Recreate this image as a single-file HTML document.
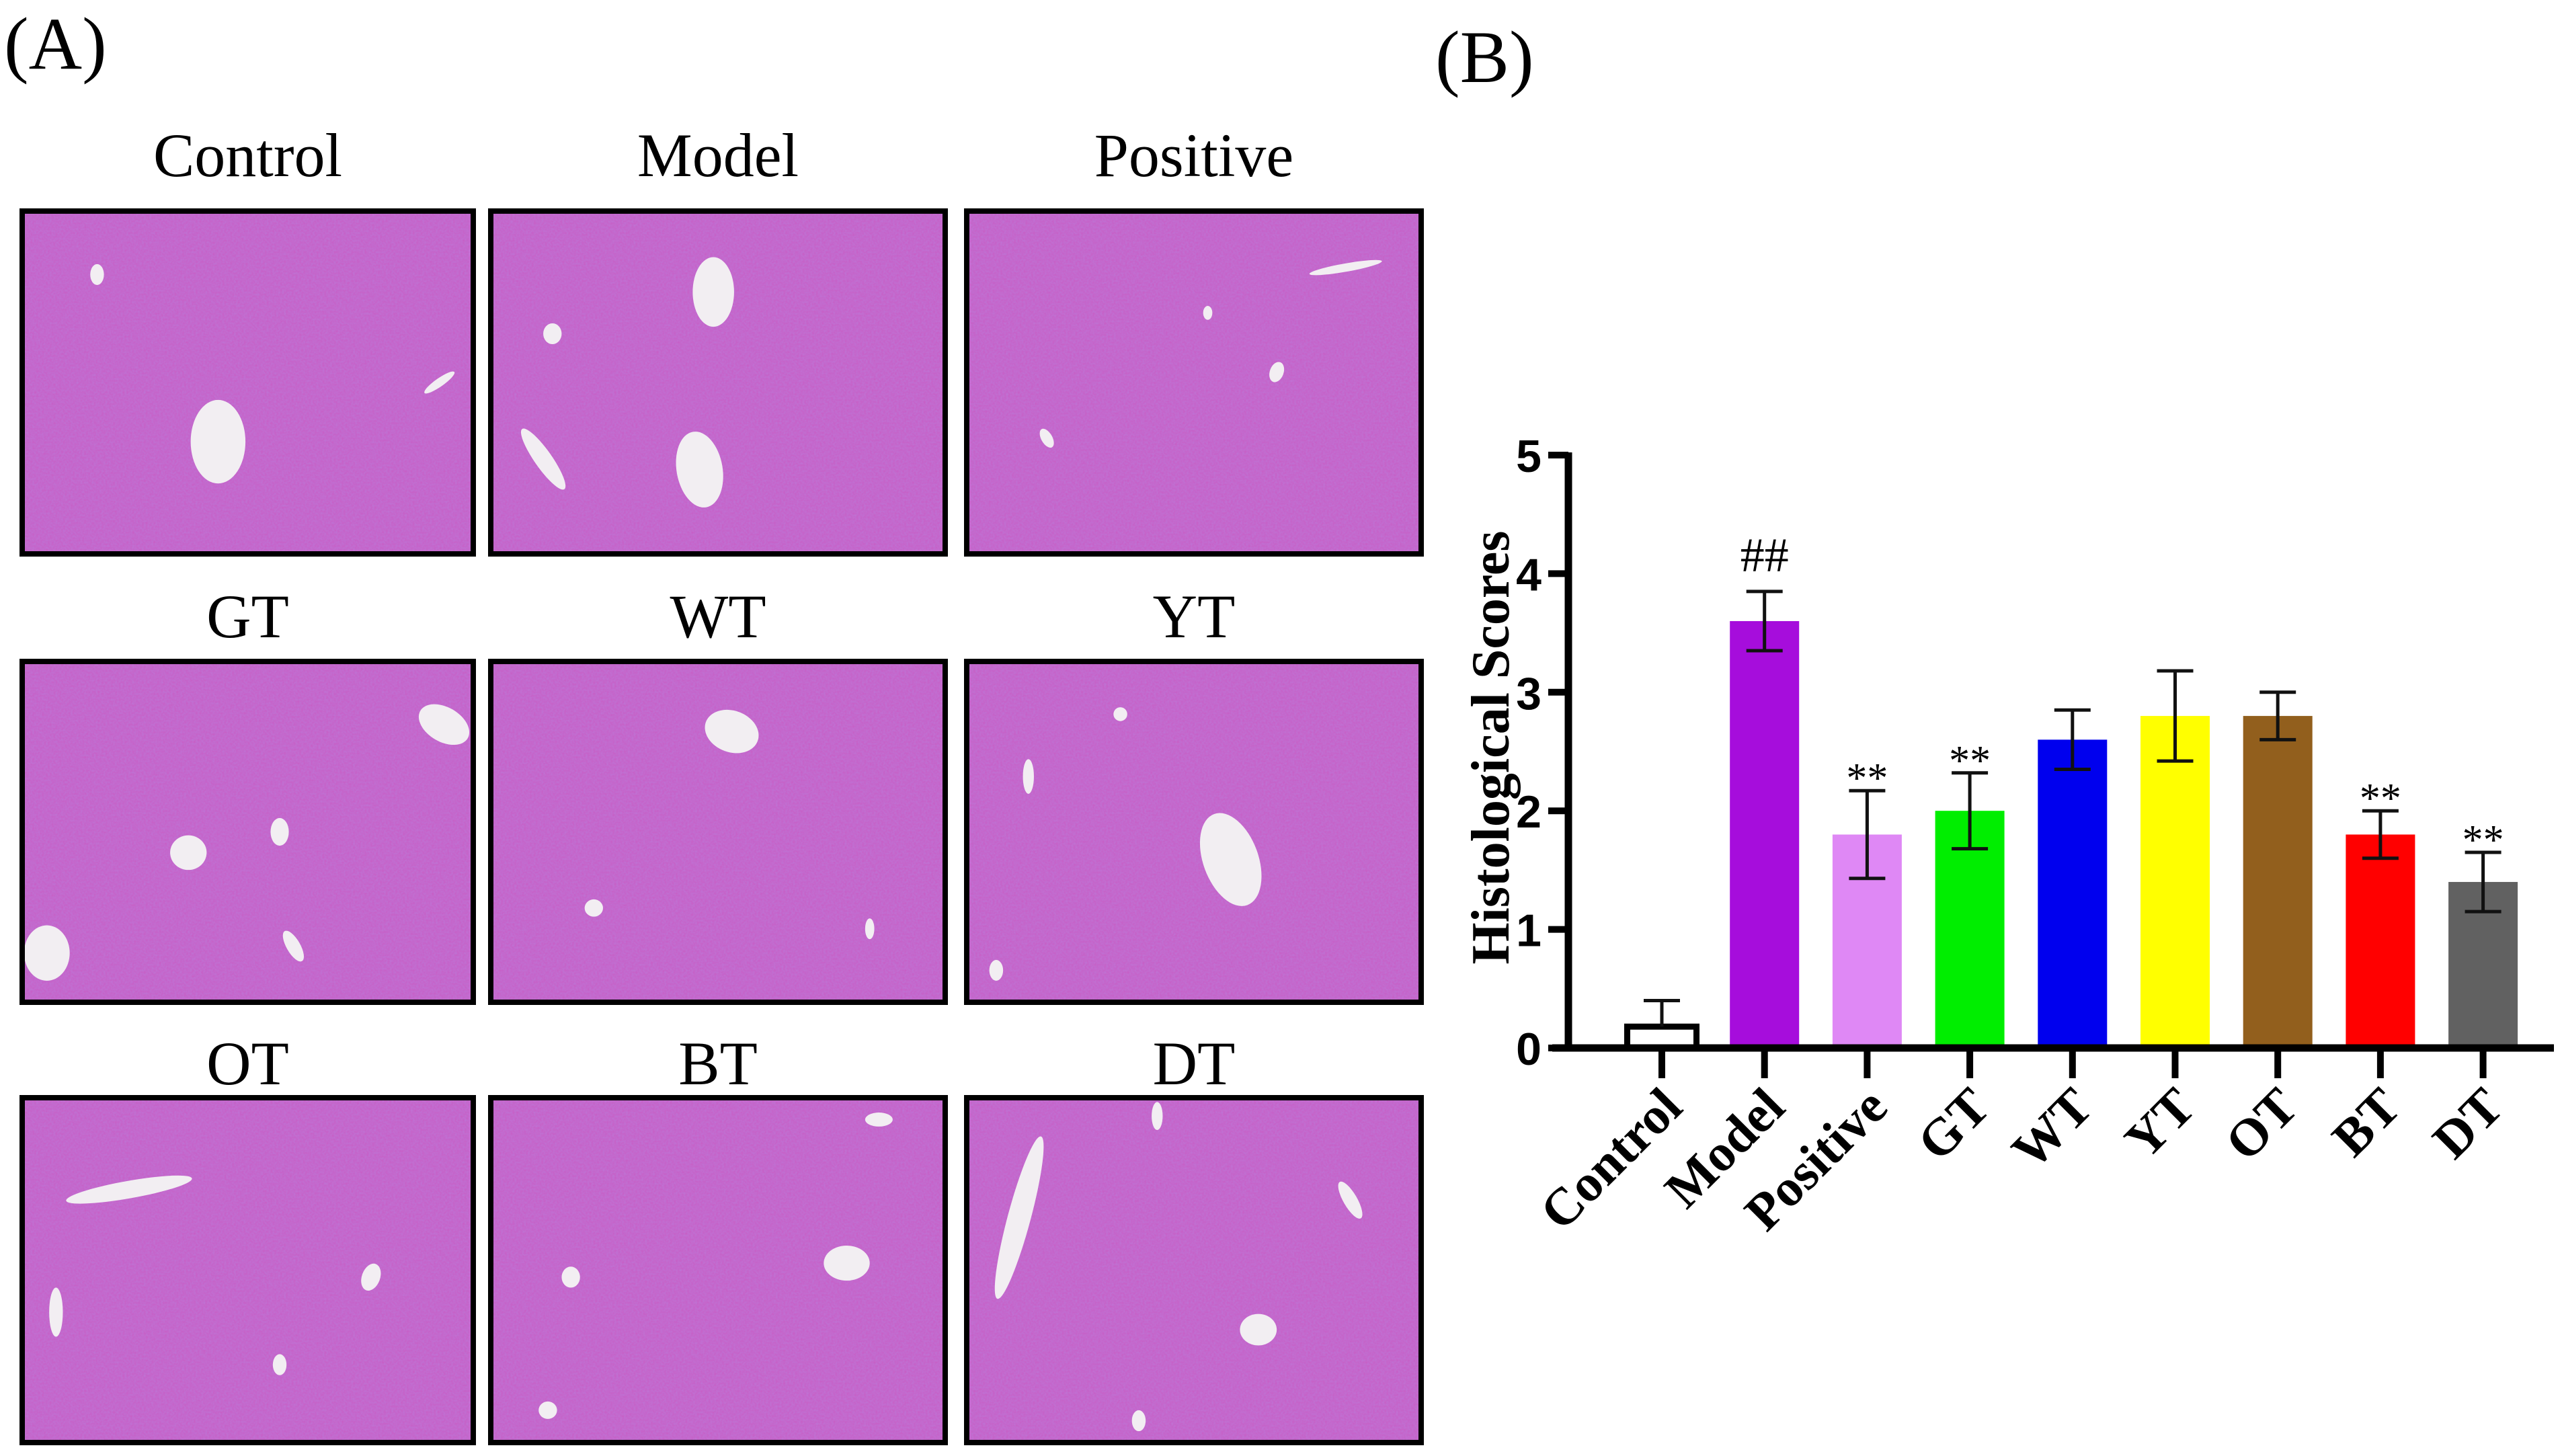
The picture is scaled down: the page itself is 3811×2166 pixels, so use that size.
<!DOCTYPE html>
<html><head><meta charset="utf-8">
<style>
html,body{margin:0;padding:0;background:#fff;}
body{width:3811px;height:2161px;position:relative;overflow:hidden;font-family:"Liberation Serif",serif;}
</style></head>
<body>
<svg id="fig" width="3811" height="2161" viewBox="0 0 3811 2161" xmlns="http://www.w3.org/2000/svg">
<defs>
<filter id="tex" x="0" y="0" width="100%" height="100%">
<feTurbulence type="fractalNoise" baseFrequency="0.35" numOctaves="2" seed="3" result="n"/>
<feColorMatrix in="n" type="matrix" values="0 0 0 0 0.5  0 0 0 0 0.2  0 0 0 0 0.7  0 0 0 0.8 0" result="c"/>
<feComposite in="c" in2="SourceGraphic" operator="in"/>
</filter>
</defs>
<text x="6" y="102" font-size="110" font-family="Liberation Serif">(A)</text>
<text x="2135" y="122" font-size="110" font-family="Liberation Serif">(B)</text>
<g id="micro"></g>
<g id="chart"></g>
</svg>
<script>
const NS="http://www.w3.org/2000/svg";
function mk(tag,attrs,parent){const e=document.createElementNS(NS,tag);for(const k in attrs)e.setAttribute(k,attrs[k]);parent.appendChild(e);return e;}
// ---- histology panels ----
const panelNames=["Control","Model","Positive","GT","WT","YT","OT","BT","DT"];
const colX=[[29,708],[726,1410],[1434,2118]];
const rowY=[[310,828],[980,1495],[1629,2150]];
const labelY=[262,948,1613];
const vessels=[
 [[0.435,0.67,0.06,0.12,0],[0.17,0.19,0.015,0.03,0],[0.92,0.5,0.04,0.012,-35]],
 [[0.49,0.24,0.045,0.1,0],[0.46,0.75,0.05,0.11,-10],[0.12,0.72,0.08,0.025,55],[0.14,0.36,0.02,0.03,0]],
 [[0.83,0.17,0.08,0.012,-10],[0.68,0.47,0.015,0.03,20],[0.18,0.66,0.012,0.03,-30],[0.53,0.3,0.01,0.02,0]],
 [[0.93,0.19,0.06,0.05,30],[0.37,0.56,0.04,0.05,0],[0.57,0.5,0.02,0.04,0],[0.6,0.83,0.015,0.05,-30],[0.06,0.85,0.05,0.08,0]],
 [[0.53,0.21,0.06,0.06,20],[0.23,0.72,0.02,0.025,0],[0.83,0.78,0.01,0.03,0]],
 [[0.58,0.58,0.06,0.14,-20],[0.14,0.34,0.012,0.05,0],[0.07,0.9,0.015,0.03,0],[0.34,0.16,0.015,0.02,0]],
 [[0.24,0.27,0.14,0.025,-10],[0.08,0.62,0.015,0.07,0],[0.77,0.52,0.02,0.04,20],[0.57,0.77,0.015,0.03,0]],
 [[0.78,0.48,0.05,0.05,0],[0.85,0.07,0.03,0.02,0],[0.18,0.52,0.02,0.03,0],[0.13,0.9,0.02,0.025,0]],
 [[0.12,0.35,0.025,0.24,15],[0.64,0.67,0.04,0.045,0],[0.84,0.3,0.015,0.06,-30],[0.42,0.06,0.012,0.04,0],[0.38,0.93,0.015,0.03,0]]
];
const micro=document.getElementById('micro');
panelNames.forEach((name,i)=>{
 const r=Math.floor(i/3),c=i%3;
 const x0=colX[c][0],x1=colX[c][1],y0=rowY[r][0],y1=rowY[r][1];
 const w=x1-x0,h=y1-y0;
 const g=mk('g',{},micro);
 
 
 const t=mk('text',{x:(x0+x1)/2,y:labelY[r],'font-size':92,'text-anchor':'middle','font-family':'Liberation Serif'},g);
 t.textContent=name;
 
 
 mk('rect',{x:x0,y:y0,width:w,height:h,fill:'#c85cc4'},g);
 mk('rect',{x:x0,y:y0,width:w,height:h,fill:'#c85cc4',filter:'url(#tex)'},g);
 vessels[i].forEach(v=>{
  const cx=x0+v[0]*w,cy=y0+v[1]*h;
  mk('ellipse',{cx:cx,cy:cy,rx:v[2]*w,ry:v[3]*h,fill:'#f2eef2',transform:`rotate(${v[4]} ${cx} ${cy})`},g);
 });
 mk('rect',{x:x0+4,y:y0+4,width:w-8,height:h-8,fill:'none',stroke:'#000','stroke-width':8},g);
});
// ---- bar chart ----
const categories=["Control","Model","Positive","GT","WT","YT","OT","BT","DT"];
const means=[0.18,3.6,1.8,2.0,2.6,2.8,2.8,1.8,1.4];
const errors=[0.22,0.25,0.37,0.32,0.25,0.38,0.2,0.2,0.25];
const colors=["#ffffff","#a60ddc","#df88f5","#00ee00","#0000ee","#ffff00","#925f1d","#ff0000","#616161"];
const marks=["","##","**","**","","","","**","**"];
const yTicks=[0,1,2,3,4,5];
const chart=document.getElementById('chart');
const Y0=1559,PXU=176.4,AX=2333,X0=2472,STEP=152.7,BW=103;
const ymap=v=>Y0-PXU*v;
const xmap=i=>X0+STEP*i;
const yAxis=mk('line',{x1:AX,y1:ymap(5)-4,x2:AX,y2:Y0+5,stroke:'#000','stroke-width':11},chart);

yTicks.forEach(t=>{
 const tk=mk('line',{x1:AX-30,y1:ymap(t),x2:AX,y2:ymap(t),stroke:'#000','stroke-width':10},chart);
 
 const tl=mk('text',{x:AX-40,y:ymap(t)+25,'font-size':68,'font-weight':'bold','text-anchor':'end','font-family':'Liberation Sans'},chart);
 tl.textContent=t;
});
const yt=mk('text',{x:0,y:0,'font-size':80,'font-weight':'bold','text-anchor':'middle','font-family':'Liberation Serif',transform:`translate(2244,1112) rotate(-90)`},chart);
yt.textContent="Histological Scores";
categories.forEach((c,i)=>{
 const cx=xmap(i);
 const top=ymap(means[i]);
 const b=mk('rect',{x:cx-BW/2,y:top,width:BW,height:Y0-top,fill:colors[i]},chart);
 if(i===0){b.setAttribute('stroke','#000');b.setAttribute('stroke-width','9');}
 
 const eg=mk('g',{stroke:'#111','stroke-width':5},chart);
 
 const lo=i===0?means[i]:means[i]-errors[i], hi=means[i]+errors[i];
 mk('line',{x1:cx,y1:ymap(hi),x2:cx,y2:ymap(lo)},eg);
 mk('line',{x1:cx-27,y1:ymap(hi),x2:cx+27,y2:ymap(hi)},eg);
 if(i!==0)mk('line',{x1:cx-27,y1:ymap(lo),x2:cx+27,y2:ymap(lo)},eg);
 if(marks[i]){
  const m=mk('text',{x:cx,y:ymap(hi)-(marks[i]==="##"?30:-2),'font-size':marks[i]==="##"?72:62,'text-anchor':'middle','font-family':'Liberation Serif'},chart);
  m.textContent=marks[i];
 }
 const tk=mk('line',{x1:cx,y1:Y0,x2:cx,y2:Y0+45,stroke:'#000','stroke-width':10},chart);
 
 const tl=mk('text',{x:0,y:0,'font-size':78,'font-weight':'bold','text-anchor':'end','font-family':'Liberation Serif',transform:`translate(${cx+34},${Y0+92}) rotate(-45)`},chart);
 tl.textContent=c;
});
const xAxis=mk('line',{x1:2309,y1:Y0,x2:3799,y2:Y0,stroke:'#000','stroke-width':11},chart);

</script>
</body></html>
